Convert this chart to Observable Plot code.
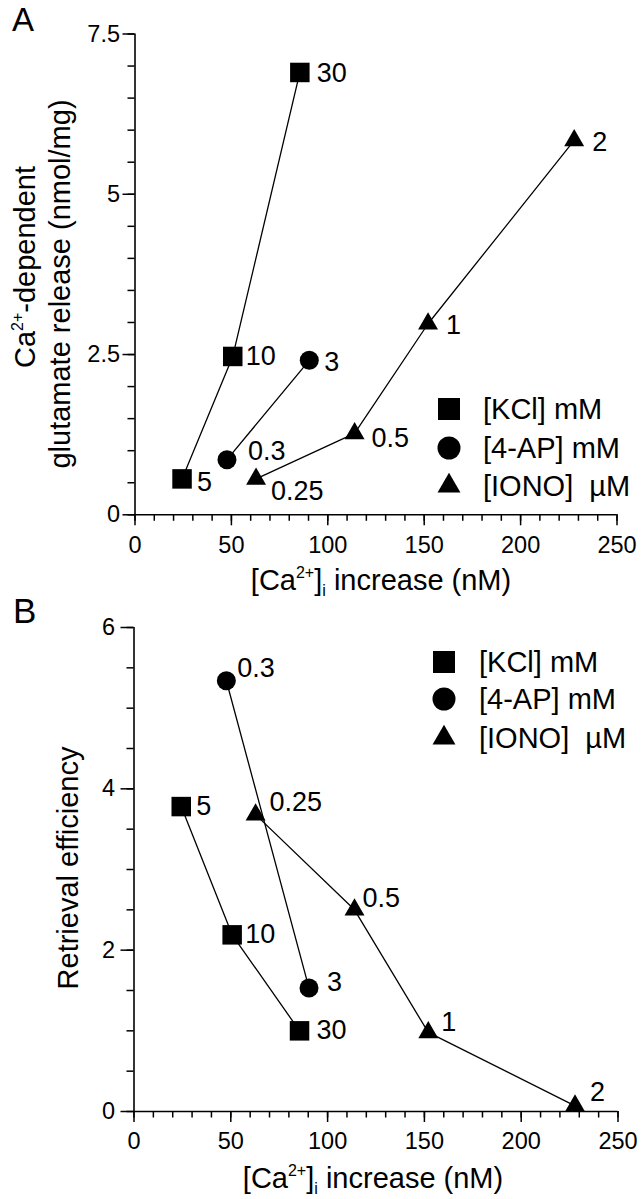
<!DOCTYPE html>
<html><head><meta charset="utf-8">
<script src="https://cdn.jsdelivr.net/npm/d3@7"></script>
<script src="https://cdn.jsdelivr.net/npm/@observablehq/plot@0.6"></script>
<style>
body{margin:0;background:#fff;}
#wrap{position:relative;width:643px;height:1199px;overflow:hidden;background:#fff;}
#wrap > .panel{position:absolute;left:0;}
#overlay{position:absolute;left:0;top:0;pointer-events:none;}
</style></head><body><div id="wrap"></div>
<script>
// ---- data ----
const kclConc = ["5", "10", "30"];
const kclCa = [24.4, 50.7, 85.5];
const kclRelease = [0.56, 2.47, 6.90];
const kclEfficiency = [3.78, 2.19, 1.00];

const apConc = ["0.3", "3"];
const apCa = [47.7, 90.4];
const apRelease = [0.86, 2.41];
const apEfficiency = [5.34, 1.53];

const ionoConc = ["0.25", "0.5", "1", "2"];
const ionoCa = [62.8, 113.9, 152.0, 227.8];
const ionoRelease = [0.56, 1.27, 2.98, 5.84];
const ionoEfficiency = [3.68, 2.50, 0.98, 0.07];

const seriesNames = ["[KCl] mM", "[4-AP] mM", "[IONO]\u00a0 \u00b5M"];
const seriesSymbols = ["square", "circle", "triangle"];
const xTicks = [0, 50, 100, 150, 200, 250];
const yTicksA = [0, 2.5, 5, 7.5];
const yTicksB = [0, 2, 4, 6];

// ---- label offsets (style only) ----
const labelOffsetsA = {
  "KCl": [[15, 3], [13, 0], [17, 1]],
  "AP": [[21, -8], [15, 2]],
  "IONO": [[15, 12], [17, 5], [18, 2], [18, 2]]
};
const labelOffsetsB = {
  "KCl": [[15, 0], [13, 0], [17, 0]],
  "AP": [[11, -12], [18, -6]],
  "IONO": [[14, -12], [8, -11], [13, -10], [15, -13]]
};
const symbolR = {square: 11, circle: 9.5, triangle: 7.4};
const FONT = "'Liberation Sans', Arial, Helvetica, sans-serif";

function rows(ca, vals, conc) {
  return ca.map((x, i) => ({x, y: vals[i], label: conc[i]}));
}

function seriesMarks(data, symbol, offsets) {
  const marks = [
    Plot.line(data, {x: "x", y: "y", stroke: "black", strokeWidth: 1.3}),
    Plot.dot(data, {x: "x", y: "y", symbol: () => symbol, fill: "black", stroke: "none", r: symbolR[symbol]})
  ];
  data.forEach((d, i) => {
    marks.push(Plot.text([d], {x: "x", y: "y", text: "label", textAnchor: "start",
      dx: offsets[i][0], dy: offsets[i][1], fontSize: 27, fill: "black"}));
  });
  return marks;
}

const fmt = d => String(d);

function panel(opts) {
  const kcl = rows(kclCa, opts.kcl, kclConc);
  const ap = rows(apCa, opts.ap, apConc);
  const iono = rows(ionoCa, opts.iono, ionoConc);
  return Plot.plot({
    width: 643,
    height: opts.height,
    marginLeft: opts.ml, marginRight: opts.mr, marginTop: opts.mt, marginBottom: opts.mb,
    style: {fontFamily: FONT, color: "black", background: "white", overflow: "visible"},
    x: {domain: [0, 250], label: null},
    y: {domain: opts.yDomain, label: null},
    marks: [
      Plot.axisX({ticks: d3.range(0, 251, 10), tickSize: 6.5, tickFormat: () => "", strokeWidth: 1.5, label: null}),
      Plot.axisX({ticks: xTicks, tickSize: 11, tickPadding: opts.xPad, tickFormat: fmt, fontSize: 23.5, strokeWidth: 1.5, label: null}),
      Plot.axisY({ticks: d3.range(0, opts.yDomain[1] + 0.01, 0.5), tickSize: 7, tickFormat: () => "", strokeWidth: 1.5, label: null}),
      Plot.axisY({ticks: opts.yTicks, tickSize: opts.yTick, tickPadding: opts.yPad, tickFormat: fmt, fontSize: 23.5, strokeWidth: 1.5, label: null}),
      Plot.ruleY([0], {stroke: "black", strokeWidth: 1.6}),
      Plot.ruleX([0], {stroke: "black", strokeWidth: 1.6}),
      ...seriesMarks(kcl, "square", opts.off.KCl),
      ...seriesMarks(ap, "circle", opts.off.AP),
      ...seriesMarks(iono, "triangle", opts.off.IONO)
    ]
  });
}

const wrap = document.getElementById("wrap");
const pA = panel({height: 600, ml: 134.5, mr: 26.5, mt: 33.5, mb: 85.7, yDomain: [0, 7.5], yTicks: yTicksA,
  kcl: kclRelease, ap: apRelease, iono: ionoRelease, off: labelOffsetsA, xPad: 11, yTick: 12, yPad: 3});
pA.classList.add("panel"); pA.style.top = "0px";
wrap.appendChild(pA);
const pB = panel({height: 599, ml: 133.5, mr: 25.5, mt: 27, mb: 88, yDomain: [0, 6], yTicks: yTicksB,
  kcl: kclEfficiency, ap: apEfficiency, iono: ionoEfficiency, off: labelOffsetsB, xPad: 10, yTick: 13, yPad: 6});
pB.classList.add("panel"); pB.style.top = "600px";
wrap.appendChild(pB);

// ---- overlay: panel letters, axis titles, legends ----
const svg = d3.select(wrap).append("svg").attr("id", "overlay")
  .attr("width", 643).attr("height", 1199)
  .style("font-family", FONT).attr("fill", "black");

svg.append("text").attr("x", 12).attr("y", 31).attr("font-size", 33).text("A");
svg.append("text").attr("x", 13).attr("y", 623).attr("font-size", 35).text("B");

function caTitle(x, y) {
  const t = svg.append("text").attr("x", x).attr("y", y).attr("font-size", 29).attr("text-anchor", "middle");
  t.append("tspan").text("[Ca");
  t.append("tspan").attr("font-size", 16).attr("dy", -12).text("2+");
  t.append("tspan").attr("dy", 12).text("]");
  t.append("tspan").attr("font-size", 16).attr("dy", 6).text("i");
  t.append("tspan").attr("dy", -6).text(" increase (nM)");
}
caTitle(381, 590);
caTitle(373, 1188);

// y titles
const yt1 = svg.append("text").attr("font-size", 29).attr("text-anchor", "middle")
  .attr("transform", "translate(35,267) rotate(-90)");
yt1.append("tspan").text("Ca");
yt1.append("tspan").attr("font-size", 16).attr("dy", -12).text("2+");
yt1.append("tspan").attr("dy", 12).text("-dependent");
svg.append("text").attr("font-size", 29).attr("text-anchor", "middle")
  .attr("transform", "translate(70,284) rotate(-90)").text("glutamate release (nmol/mg)");
svg.append("text").attr("font-size", 29).attr("text-anchor", "middle")
  .attr("transform", "translate(78,868) rotate(-90)").text("Retrieval efficiency");

// legends
const legendR = {square: 12.4, circle: 11.5, triangle: 8.5};
function legend(x, ys, tx) {
  seriesNames.forEach((name, i) => {
    const s = seriesSymbols[i];
    const sym = s === "square" ? d3.symbolSquare : s === "circle" ? d3.symbolCircle : d3.symbolTriangle;
    svg.append("path").attr("transform", `translate(${x},${ys[i]})`)
      .attr("d", d3.symbol(sym, Math.PI * legendR[s] * legendR[s])());
    svg.append("text").attr("x", tx).attr("y", ys[i] + 10).attr("font-size", 29).text(name);
  });
}
legend(449, [409, 448, 486], 483);
legend(444, [662, 699, 738], 479);
</script></body></html>
